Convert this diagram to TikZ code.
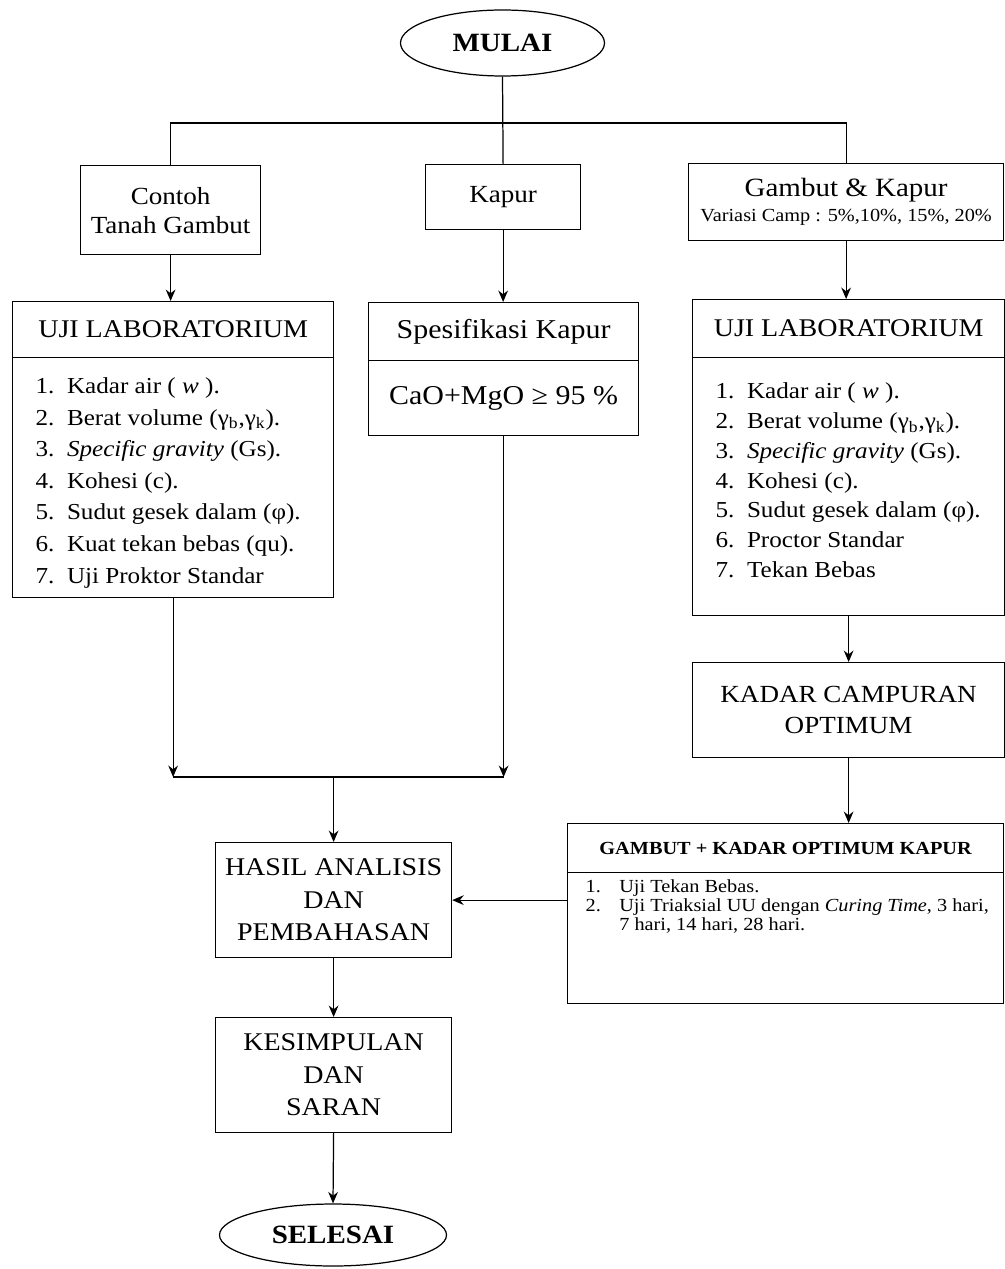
\documentclass[tikz,border=0pt]{standalone}
\usepackage{fontspec}
\setmainfont{Liberation Serif}[FakeStretch=1.1]
\usetikzlibrary{shapes.geometric,arrows.meta}

\tikzset{
  kotak/.style={draw, rectangle, inner sep=0pt, anchor=north west, align=center,
    font=\fontsize{14}{16.5}\selectfont},
  ujung/.style={draw, ellipse, inner sep=0pt, font=\fontsize{15}{17}\selectfont\bfseries},
  daftar/.style={anchor=north west, align=left, inner sep=0pt,
    font=\fontsize{13}{18}\selectfont},
  panah/.style={-{Stealth[length=6.5pt,width=5.5pt]}},
}

\begin{document}
\begin{tikzpicture}[line width=0.7pt]
      \useasboundingbox (+0.00, +0.00) rectangle (+20.10, -25.38);
      % START
      \node[ujung, minimum width=4.08cm, minimum height=1.32cm] (mulai) at (+10.05, -0.86) {MULAI};
      \coordinate (bar) at (+10.05, -2.46);
      % TOP ROW
      \node[kotak, minimum width=3.60cm, minimum height=1.78cm] (contoh) at (+1.60, -3.30) {Contoh\\Tanah Gambut};
      \node[kotak, minimum width=3.10cm, minimum height=1.30cm] (kapur) at (+8.50, -3.28) {Kapur};
      \node[kotak, font=\fontsize{15}{17}\selectfont, minimum width=6.30cm, minimum height=1.54cm] (gk) at (+13.76, -3.26)
        {Gambut \& Kapur\\[-3pt]{\fontsize{10.5}{12}\selectfont Variasi Camp : 5\%,10\%, 15\%, 20\%}};
      \draw (mulai.south) -- (kapur.north);
      \draw (contoh.north) |- (gk.north |- bar) -- (gk.north);
      % LEFT COLUMN
      \node[kotak, font=\fontsize{14.5}{16}\selectfont, minimum width=6.42cm, minimum height=1.12cm] (lab1h) at (+0.24, -6.02) {UJI LABORATORIUM};
      \node[kotak, minimum width=6.42cm, minimum height=4.80cm] (lab1b) at (+0.24, -7.14) {};
      \node[daftar] (lab1l) at ([xshift=0.46cm, yshift=-0.40cm]lab1b.north west)
        {1.\ \ Kadar air ( \textit{w} ).\\
         2.\ \ Berat volume (γ\textsubscript{b},γ\textsubscript{k}).\\
         3.\ \ \textit{Specific gravity} (Gs).\\
         4.\ \ Kohesi (c).\\
         5.\ \ Sudut gesek dalam (φ).\\
         6.\ \ Kuat tekan bebas (qu).\\
         7.\ \ Uji Proktor Standar};
      \draw[panah] (contoh.south) -- (contoh.south |- lab1h.north);
      % MIDDLE COLUMN
      \node[kotak, font=\fontsize{15.5}{17}\selectfont, minimum width=5.40cm, minimum height=1.16cm] (spekh) at (+7.36, -6.04) {Spesifikasi Kapur};
      \node[kotak, font=\fontsize{15.5}{17}\selectfont, minimum width=5.40cm, minimum height=1.50cm] (spekb) at (+7.36, -7.20) {CaO+MgO ≥ 95 \%};
      \draw[panah] (kapur.south) -- (kapur.south |- spekh.north);
      % RIGHT COLUMN
      \node[kotak, font=\fontsize{14.5}{16}\selectfont, minimum width=6.24cm, minimum height=1.16cm] (lab2h) at (+13.84, -5.98) {UJI LABORATORIUM};
      \node[kotak, minimum width=6.24cm, minimum height=5.16cm] (lab2b) at (+13.84, -7.14) {};
      \node[daftar, font=\fontsize{13}{17}\selectfont] (lab2l) at ([xshift=0.46cm, yshift=-0.50cm]lab2b.north west)
        {1.\ \ Kadar air ( \textit{w} ).\\
         2.\ \ Berat volume (γ\textsubscript{b},γ\textsubscript{k}).\\
         3.\ \ \textit{Specific gravity} (Gs).\\
         4.\ \ Kohesi (c).\\
         5.\ \ Sudut gesek dalam (φ).\\
         6.\ \ Proctor Standar\\
         7.\ \ Tekan Bebas};
      \draw[panah] (gk.south) -- (gk.south |- lab2h.north);
      \node[kotak, font=\fontsize{14}{17.5}\selectfont, minimum width=6.24cm, minimum height=1.90cm] (kadar) at (+13.84, -13.24) {KADAR CAMPURAN\\OPTIMUM};
      \draw[panah] (lab2b.south) -- (lab2b.south |- kadar.north);
      % MIXTURE TEST
      \node[kotak, font=\fontsize{10.5}{12}\selectfont\bfseries, minimum width=8.72cm, minimum height=0.98cm] (gkoh) at (+11.34, -16.46) {GAMBUT + KADAR OPTIMUM KAPUR};
      \node[kotak, minimum width=8.72cm, minimum height=2.62cm] (gkob) at (+11.34, -17.44) {};
      \node[daftar, font=\fontsize{10.5}{10.8}\selectfont] (gkol) at ([xshift=0.36cm, yshift=-0.14cm]gkob.north west)
        {1.\quad Uji Tekan Bebas.\\
         2.\quad Uji Triaksial UU dengan \textit{Curing Time}, 3 hari,\\
         \phantom{2.\quad}7 hari, 14 hari, 28 hari.};
      \draw[panah] (kadar.south) -- (kadar.south |- gkoh.north);
      % BOTTOM PART
      \coordinate (gabung) at (+6.66, -15.54);
      \node[kotak, font=\fontsize{14.5}{18.5}\selectfont, minimum width=4.72cm, minimum height=2.30cm] (hasil) at (+4.30, -16.84) {HASIL ANALISIS\\DAN\\PEMBAHASAN};
      \node[kotak, font=\fontsize{14.5}{18.5}\selectfont, minimum width=4.72cm, minimum height=2.30cm] (kesim) at (+4.30, -20.34) {KESIMPULAN\\DAN\\SARAN};
      \node[ujung, minimum width=4.54cm, minimum height=1.24cm] (selesai) at (+6.66, -24.70) {SELESAI};
      \draw[panah] (lab1b.south) -- (lab1b.south |- gabung);
      \draw[panah] (spekb.south) -- (spekb.south |- gabung);
      \draw (lab1b.south |- gabung) -- (spekb.south |- gabung);
      \draw[panah] (hasil.north |- gabung) -- (hasil.north);
      \draw[panah] (hasil.east -| gkob.west) -- (hasil.east);
      \draw[panah] (hasil.south) -- (kesim.north);
      \draw[panah] (kesim.south) -- (selesai.north);
\end{tikzpicture}
\end{document}
